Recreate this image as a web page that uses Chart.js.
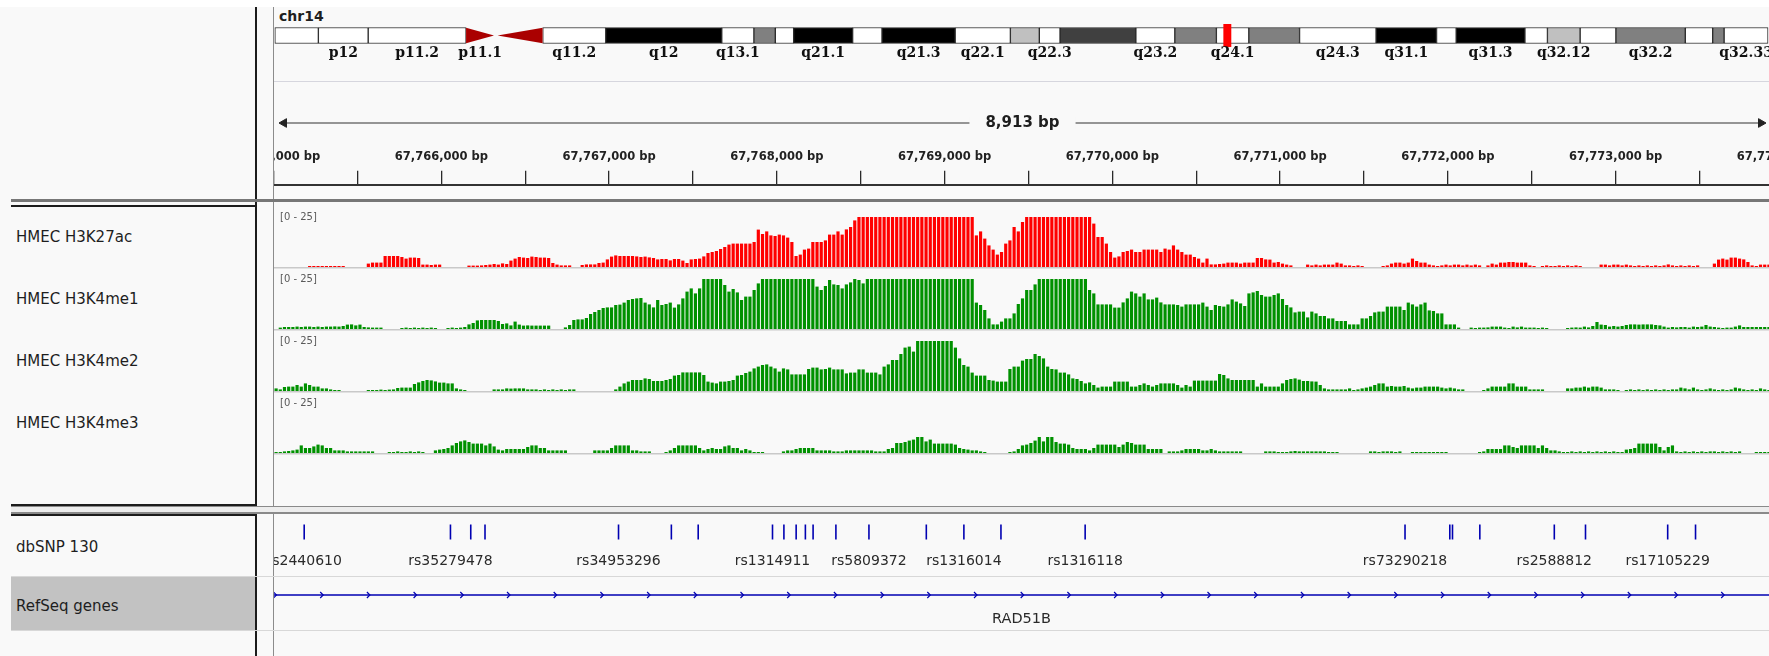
<!DOCTYPE html>
<html lang="en">
<head>
<meta charset="UTF-8">
<title>IGV - chr14:67,765,002-67,773,915</title>
<script src="https://cdn.jsdelivr.net/npm/chart.js@4"></script>
<style>
  html, body { margin: 0; padding: 0; }
  body { width: 1769px; height: 656px; overflow: hidden; position: relative; background: #f9f9f9;
         font-family: "DejaVu Sans", sans-serif; color: #1e1e1e; }
  .box { position: absolute; }
  .name { position: absolute; left: 16px; font-size: 15px; line-height: 18px; white-space: nowrap; }
  canvas { position: absolute; }
  #data { position: absolute; left: 274px; top: 0; width: 1495px; height: 656px; overflow: hidden; }
</style>
</head>
<body>
<!-- frame -->
<div class="box" style="left:0;top:0;width:1769px;height:7px;background:#fff"></div>
<div class="box" style="left:255px;top:7px;width:2px;height:649px;background:#1c1c1c"></div>
<div class="box" style="left:273px;top:7px;width:1px;height:649px;background:#8c8c8c"></div>
<div class="box" style="left:274px;top:81px;width:1495px;height:1px;background:#d6d6de"></div>
<div class="box" style="left:11px;top:199px;width:1758px;height:3px;background:#777"></div>
<div class="box" style="left:11px;top:205px;width:246px;height:2px;background:#1c1c1c"></div>
<div class="box" style="left:11px;top:504px;width:246px;height:2px;background:#1c1c1c"></div>
<div class="box" style="left:11px;top:506px;width:1758px;height:8px;border-top:1px solid #8a8a8a;border-bottom:2px solid #8a8a8a;box-sizing:border-box;background:#ededed"></div>
<div class="box" style="left:11px;top:514px;width:246px;height:2px;background:#1c1c1c"></div>
<div class="box" style="left:11px;top:576px;width:1758px;height:1px;background:#d8d8d8"></div>
<div class="box" style="left:11px;top:577px;width:244px;height:53px;background:#c2c2c2"></div>
<div class="box" style="left:11px;top:630px;width:1758px;height:1px;background:#d8d8d8"></div>

<!-- name panel -->
<div class="name" style="left:279px;top:7px;font-size:14px;font-weight:bold">chr14</div>
<div class="name" style="top:228px">HMEC H3K27ac</div>
<div class="name" style="top:290px">HMEC H3K4me1</div>
<div class="name" style="top:352px">HMEC H3K4me2</div>
<div class="name" style="top:414px">HMEC H3K4me3</div>
<div class="name" style="top:538px">dbSNP 130</div>
<div class="name" style="top:597px">RefSeq genes</div>

<div id="data">
  <canvas id="ideogram" width="1500" height="45" style="left:0;top:20px"></canvas>
  <canvas id="span" width="1495" height="26" style="left:0;top:110px"></canvas>
  <canvas id="ruler" width="1625" height="90" style="left:-60px;top:143px"></canvas>
  <canvas id="t1" width="1497" height="64" style="left:0;top:205px"></canvas>
  <canvas id="t2" width="1497" height="64" style="left:0;top:267px"></canvas>
  <canvas id="t3" width="1497" height="64" style="left:0;top:329px"></canvas>
  <canvas id="t4" width="1497" height="64" style="left:0;top:391px"></canvas>
  <canvas id="snp" width="1615" height="56" style="left:-60px;top:518px"></canvas>
  <canvas id="gene" width="1495" height="46" style="left:0;top:582px"></canvas>
</div>

<script>
// ---- view ----
const viewStart = 67765002;
const viewEnd = 67773915;

// ---- coverage, 25 bp bins from 67,765,000 ----
const binStart = 67765000;
const binSize = 25;

const h3k27ac = [
  0,0,0,0,0,0,0,0,0.5,0.5, 0.5,0.5,0.5,0.5,0.5,0.5,0.5,0,0,0,
  0,0,1.7,2.2,2.2,2.2,5.5,5.5,5.5,5.5, 5.0,4.2,4.7,4.7,4.5,1.2,1.2,1.0,1.2,1.2,
  0,0,0,0,0,0,0.7,0.7,0.7,0.8, 1.0,1.2,1.5,1.2,1.8,1.5,3.2,4.2,5.0,4.7,
  4.5,5.2,5.0,4.7,4.7,4.5,2.0,1.2,0.8,0.8, 0.8,0,0,1.0,1.3,1.3,1.3,2.0,2.2,3.8,
  5.2,5.8,5.5,5.5,5.5,5.5,5.3,5.0,5.2,4.8, 4.5,3.8,4.0,4.0,3.3,4.0,4.0,3.2,2.0,3.8,
  4.0,4.2,5.3,7.0,7.5,8.0,9.0,10.0,11.2,11.7, 11.7,11.7,11.7,11.7,12.5,18.7,16.5,17.8,15.8,15.5,
  16.2,15.8,14.7,12.5,5.5,6.2,8.7,9.2,12.5,12.5, 12.5,13.3,16.2,16.2,17.8,16.2,18.8,20,23.3,25,
  25,25,25,25,25,25,25,25,25,25, 25,25,25,25,25,25,25,25,25,25,
  25,25,25,25,25,25,25,15.8,17.8,14.2, 10.8,8.7,6.2,7.5,11.7,13.3,20,17.8,22.5,25,
  25,25,25,25,25,25,25,25,25,25, 25,25,25,25,25,21.7,15,15,11.7,7.5,
  4.7,5.3,7.5,8,8.7,7.5,7.5,8.7,8.7,8.7, 8.7,7.5,9.2,8.7,10.8,8.7,7.5,6.2,6.2,5,
  4.2,2.2,4.2,1.3,1.3,1.5,1.7,2.2,2.2,2.2, 1.7,2.2,2.2,2.2,4.5,4.5,3.8,3.7,2.2,2.5,
  1.7,1.2,0.8,0,0,0,1.2,0.8,1.2,0.8, 1.2,1.2,1.2,2.2,1.7,0.8,0.8,0.5,0.8,0.5,
  0,0,0,0,0.5,0.8,1.7,2.2,2.2,1.7, 2.2,4.2,3,2.2,2.2,1.2,0.8,0.5,0.8,1.2,
  0.8,1.2,1.2,0.8,1.2,0.8,1.2,0.8,0,0.8, 1.7,1.2,2.2,2.2,2.5,2.5,2.2,2.2,2.2,0.8,
  0.5,0,0.5,0.8,0.5,0.5,0.8,0.5,0.8,0.5, 0.8,0.5,0,0,0,0,1.2,1.2,0.8,1.2,
  1.2,0.8,1.2,0.8,0.5,0.8,0.5,0.8,0.5,0.8, 0.5,0.8,1.3,0.8,0.5,0.8,0.5,0.8,0.5,0.8,
  0,0,0,1.7,3.7,4.2,3.7,4.7,4.7,4.2, 3.8,2.5,0.8,0.5,1.2,1.2,1.2
];

const h3k4me1 = [
  0,0.7,1.0,1.0,1.0,1.2,1.0,1.2,1.2,1.0, 1.2,1.0,1.2,1.2,1.3,1.2,1.5,2.2,2.3,1.8,
  2.2,1.0,0.8,0.7,0.7,0.7,0,0,0,0, 0.5,0.7,0.5,0.7,0.5,0.7,0.5,0.7,0.5,0,
  0,0.5,0.7,0.5,0.7,1.0,2.3,3.0,4.3,4.5, 4.5,4.5,4.5,4.0,2.5,2.8,1.8,3.7,2.2,1.7,
  1.8,1.7,1.7,1.7,1.7,1.7,0,0,0,0.8, 2.0,4.5,4.8,4.8,5.5,7.5,8.5,9.5,10.5,10.8,
  10.8,12.0,12.2,13.2,14.5,15.0,15.3,15.5,13.2,12.3, 10.8,14.5,12.0,12.5,13.2,10.7,12.3,15.3,18.7,20.3,
  17.8,20.3,25,25,25,25,25,22,18.7,20, 18.3,14.5,16.2,16.2,19.5,22.8,25,25,25,25,
  25,25,25,25,25,25,25,25,25,21.2, 19.5,21.5,24.5,22.3,22.0,20.3,22.3,23.3,25,24.5,
  22.8,25,25,25,25,25,25,25,25,25, 25,25,25,25,25,25,25,25,25,25,
  25,25,25,25,25,25,25,13.2,12.0,9.5, 5.3,2.3,2.3,3.7,5.3,5.3,7.8,12.5,15.3,19.5,
  19.5,22.3,25,25,25,25,25,25,25,25, 25,25,25,25,19.5,17.8,12.3,12.3,12.3,12.3,
  10.7,10.7,13.3,15.3,18.7,17.8,16.2,17.8,14.8,14.8, 15.7,13.3,12.3,12.3,12.3,12.0,11.2,12.3,12.3,12.3,
  12.3,13.2,11.2,9.5,12.0,11.5,11.2,12.3,14.8,13.7, 12.8,11.5,17.8,18.3,19.0,17.0,16.2,16.2,17.0,17.8,
  15.0,12.0,10.8,8.3,8.7,8.7,5.8,8.7,7.8,6.5, 6.5,5.3,5.3,4.0,4.0,4.0,2.3,2.3,2.3,5.3,
  5.3,6.5,8.3,8.7,8.7,11.2,11.2,11.2,11.2,9.5, 13.2,12.3,11.2,12.3,13.2,9.3,9.0,7.8,7.8,2.3,
  2.3,2.3,0.7,0,0,0.7,0.5,0.7,0.7,0.8, 1.2,1.2,1.2,0.7,0.5,1.2,0.8,1.2,0.7,0.7,
  0.7,0.5,0.7,0.5,0,0,0,0,0.5,0.7, 0.8,0.7,1.2,0.8,1.5,3.5,2.2,2.0,1.2,1.5,
  1.2,1.5,2.0,2.3,2.3,2.2,2.3,2.3,2.3,2.0, 1.8,1.2,0.7,1.0,0.8,1.0,1.0,0.7,1.2,1.0,
  1.2,2.0,1.2,1.0,0.7,0.5,0.7,0.7,1.2,1.8, 1.0,1.0,1.0,1.0,1.0,1.0,1.0
];

const h3k4me2 = [
  1.3,0.8,2.0,2.2,2.2,3.0,2.2,3.8,3.0,2.2, 2.2,1.3,1.3,0.8,0.5,0.5,0,0,0,0,
  0,0,0.5,0.5,0.5,0.7,0.5,0.7,0.8,1.5, 1.7,1.7,1.7,3.5,4.3,5.0,5.5,5.3,4.8,4.2,
  4.2,3.8,3.8,1.3,0.8,0.5,0,0,0,0, 0,0,0.8,0.8,0.8,1.3,1.2,1.3,1.3,1.3,
  0.8,0.8,0.8,0.5,0.8,0.5,0.8,0.5,0.8,0.5, 0.8,0.8,0,0,0,0,0,0,0,0,
  0,0.8,2.2,3.8,4.7,5.5,5.5,5.5,6.3,6.0, 5.0,5.0,5.0,5.5,6.0,7.7,8.0,9.3,9.3,9.3,
  9.3,9.3,8.0,4.7,4.2,3.8,4.7,4.7,5.0,5.5, 7.7,8.0,9.0,9.7,11.3,12.2,13.0,13.3,12.2,11.3,
  9.7,11.3,10.8,8.3,8.3,8.3,8.3,11.0,11.7,11.7, 10.8,11.0,11.7,10.8,10.8,10.8,8.8,9.2,9.2,10.8,
  10.8,9.2,9.2,9.2,8.3,12.2,13.3,15.5,15.5,18.5, 21.7,22.2,19.7,25,25,25,25,25,25,25,
  25,25,21.7,16.3,13.0,12.2,9.2,7.7,7.7,7.7, 5.5,5.2,4.7,4.7,4.7,11.0,12.2,12.2,15.2,16.0,
  16.0,18.5,17.5,16.3,12.2,11.0,10.8,9.2,9.2,8.3, 6.3,6.0,5.0,3.8,4.3,3.0,1.7,2.2,2.2,2.2,
  4.7,4.7,4.7,4.7,2.2,2.2,3.0,3.8,3.0,2.2, 3.0,3.8,3.8,3.8,3.8,3.0,1.7,3.0,2.2,5.2,
  5.2,5.2,5.2,5.2,5.2,8.5,8.0,6.3,5.5,5.5, 5.5,5.5,5.5,5.5,2.2,3.8,2.2,2.2,2.2,2.2,
  3.8,5.5,6.0,6.3,5.7,5.0,5.0,4.8,4.7,3.0, 1.3,0.8,0.8,0.8,0.8,0.8,1.3,0.5,0.8,1.3,
  1.7,2.2,3.0,3.8,3.8,2.2,2.5,2.2,2.2,2.5, 1.7,1.3,1.7,1.7,2.2,2.2,2.2,2.2,1.7,1.3,
  1.7,1.3,0.8,0.8,0,0,0,0,0.5,1.3, 2.2,2.2,2.2,2.2,3.8,3.8,2.2,2.2,2.2,0.8,
  0.8,0.8,0.8,0,0,0,0,0,1.3,1.3, 1.7,1.7,2.2,1.7,2.2,2.2,1.7,0.8,0.8,0.8,
  0.5,0,0.5,0.8,0.5,0.8,0.5,0.8,0.5,0.8, 0.5,0.8,0.5,0.8,0.8,1.7,1.3,0.8,1.7,0.8,
  0.5,0.8,1.3,0.8,0.5,0.8,0.5,0.8,1.7,1.3, 0.8,0.5,0.8,0.5,1.3,0.8,0.5
];

const h3k4me3 = [
  0.5,0.5,0.8,1.0,1.3,1.7,3.8,2.5,2.5,3.3, 4.2,3.8,2.5,2.5,1.3,1.3,1.3,0.8,0.8,0.8,
  0.8,0.8,0.8,0.8,0,0,0,0.5,0.5,0.8, 0.5,0.5,0.8,0.5,0.8,0.5,0,0,1.3,1.7,
  2.0,2.5,3.8,5.0,5.8,6.3,5.5,4.7,4.7,4.7, 3.8,4.7,3.3,1.7,1.3,2.0,2.0,2.0,2.0,2.0,
  3.0,3.8,3.8,2.5,2.5,1.3,1.3,1.3,1.3,1.3, 0,0,0,0,0,0,1.3,1.3,1.3,1.3,
  2.5,3.8,3.8,3.8,3.8,1.3,1.3,0.8,0.8,0.8, 0,0,0,0.5,1.3,2.5,3.8,3.8,3.8,3.8,
  3.8,2.5,1.3,2.0,2.5,2.0,2.0,3.3,3.8,2.5, 2.5,1.3,2.0,1.3,0.5,0.5,0.5,0,0,0,
  0,0.8,1.3,1.3,2.0,2.5,2.5,2.5,2.5,1.3, 1.3,1.3,1.3,0.8,0.8,0.8,1.3,1.3,1.3,1.3,
  1.3,1.3,1.3,0.8,0.8,0.8,2.0,2.5,5.0,5.0, 5.5,6.2,6.7,8.0,8.0,5.8,6.7,4.7,4.7,4.7,
  4.7,4.7,4.2,2.5,2.0,1.7,1.3,1.3,0.8,0.5, 0,0,0,0,0,0.5,0.8,2.0,3.8,4.2,
  5.0,6.2,8.0,5.8,8.0,8.0,5.5,4.7,4.7,4.2, 2.5,2.0,2.0,2.0,1.3,2.5,4.2,4.2,4.2,4.2,
  4.2,3.0,4.2,5.5,5.0,4.2,4.2,4.2,2.0,2.0, 2.0,2.0,0,0.8,0.8,0.8,1.3,2.0,2.0,2.0,
  2.0,1.3,1.3,2.0,1.3,0.8,0.8,0.8,0.8,0.8, 0.8,0,0,0,0,0,0.8,0.8,0.8,0.5,
  0.5,0.5,0.8,1.0,0.8,0.8,0.8,0.8,0.8,0.8, 0.8,0.5,0.5,0.5,0,0,0,0,0,0,
  0,0.8,0.8,0.5,0.8,0.8,0.8,0.5,0.8,0, 0,0.5,0.5,0.5,0.5,0.5,0.5,0.5,0.5,0.5,
  0,0,0,0,0,0,0,0.5,0.8,2.0, 2.0,2.0,2.0,3.8,3.8,3.0,2.5,3.8,3.8,3.8,
  3.8,2.5,3.8,2.5,1.3,1.3,0.8,0.5,0.5,0.8, 0.5,0.8,0.5,0.8,0.5,0.8,0.5,0.8,0.5,0.8,
  0.5,0.5,1.7,2.0,2.5,4.7,4.7,4.7,4.7,4.7, 3.0,1.3,3.0,3.8,0.8,0.5,0.8,0.5,0.8,0.5,
  0.8,0.5,0.8,0.8,0.5,0.8,0.5,0.8,0.5,0.8, 0,0,0,0.5,0.5,0.5,0.5
];

// ---- chr14 cytobands (Mb) ----
const bandNames  = ['p13','p12','p11.2','p11.1','q11.1','q11.2','q12','q13.1','q13.2','q13.3','q21.1','q21.2','q21.3','q22.1','q22.2','q22.3',
                    'q23.1','q23.2','q23.3','q24.1','q24.2','q24.3','q31.1','q31.2','q31.3','q32.11','q32.12','q32.13','q32.2','q32.31','q32.32','q32.33'];
const bandStarts = [0, 3.13, 6.71, 13.75, 16.01, 19.26, 23.79, 32.13, 34.44, 35.98, 37.30, 41.54, 43.65, 48.91, 52.88, 54.96,
                    56.45, 61.90, 64.70, 67.69, 70.02, 73.67, 79.17, 83.52, 84.93, 89.87, 91.49, 93.84, 96.41, 101.40, 103.37, 104.19];
const bandEnds   = [3.13, 6.71, 13.75, 15.76, 19.26, 23.79, 32.13, 34.44, 35.98, 37.30, 41.54, 43.65, 48.91, 52.88, 54.96, 56.45,
                    61.90, 64.70, 67.69, 70.02, 73.67, 79.17, 83.52, 84.93, 89.87, 91.49, 93.84, 96.41, 101.40, 103.37, 104.19, 107.35];
const bandStains = ['gneg','gneg','gneg','acen','acen','gneg','gpos100','gneg','gpos50','gneg','gpos100','gneg','gpos100','gneg','gpos25','gneg',
                    'gpos75','gneg','gpos50','gneg','gpos50','gneg','gpos100','gneg','gpos100','gneg','gpos25','gneg','gpos50','gneg','gpos50','gneg'];
const bandShown  = ['p12','p11.2','p11.1','q11.2','q12','q13.1','q21.1','q21.3','q22.1','q22.3','q23.2','q24.1','q24.3','q31.1','q31.3','q32.12','q32.2','q32.33'];
const currentMb  = [68.18, 68.78];

// ---- dbSNP 130 ----
const snpPositions = [67765182, 67766054, 67766175, 67766260, 67767056, 67767371, 67767531, 67767974, 67768042, 67768115,
                      67768170, 67768216, 67768352, 67768549, 67768891, 67769115, 67769336, 67769838, 67771745, 67772012,
                      67772028, 67772191, 67772635, 67772821, 67773311, 67773477];
const snpIds = ['rs2440610','rs35279478','','','rs34953296','','','rs1314911','','',
                '','','','rs5809372','','rs1316014','','rs1316118','rs73290218','',
                '','','rs2588812','','rs17105229',''];

// ---- RefSeq ----
const geneName = 'RAD51B';
const geneStart = 67286000;
const geneEnd = 68196000;

// ---------------------------------------------------------------
const pxPerBp = 1495 / (viewEnd - viewStart);
const blue = 'rgb(0,0,178)';
const stainColor = { gneg: '#ffffff', gpos25: '#c0c0c0', gpos50: '#808080', gpos75: '#404040', gpos100: '#000000', acen: 'rgba(0,0,0,0)' };
const fmt = v => v.toLocaleString('en-US');

Chart.defaults.font.family = '"DejaVu Sans", sans-serif';
Chart.defaults.color = '#222';

const base = (extra) => Object.assign({
  responsive: false, animation: false, events: [], devicePixelRatio: 1,
  layout: { padding: 0, autoPadding: false },
  plugins: { legend: { display: false }, tooltip: { enabled: false } }
}, extra);

// ideogram
const acenIdx = bandStains.map((s, i) => s === 'acen' ? i : -1).filter(i => i >= 0);
const triangles = [];
// current-location marker on top
triangles.push({ type: 'line', yAxisID: 'y2', data: [{x: currentMb[0], y: 0.74}, {x: currentMb[1], y: 0.74}],
                 fill: '+1', backgroundColor: '#ff0000', borderWidth: 0, pointRadius: 0 });
triangles.push({ type: 'line', yAxisID: 'y2', data: [{x: currentMb[0], y: -0.74}, {x: currentMb[1], y: -0.74}],
                 fill: false, borderWidth: 0, pointRadius: 0 });
acenIdx.forEach((i, k) => {
  const s = bandStarts[i], e = bandEnds[i];
  // p-arm centromere narrows to the right, q-arm one to the left
  const up = k === 0 ? [0.5, 0] : [0, 0.5];
  triangles.push({ type: 'line', yAxisID: 'y2', data: [{x: s, y: up[0]}, {x: e, y: up[1]}],
                   fill: '+1', backgroundColor: '#aa0000', borderWidth: 0, pointRadius: 0 });
  triangles.push({ type: 'line', yAxisID: 'y2', data: [{x: s, y: -up[0]}, {x: e, y: -up[1]}],
                   fill: false, borderWidth: 0, pointRadius: 0 });
});
const bandSets = bandNames.map((n, i) => ({
  type: 'bar', indexAxis: 'y', xAxisID: 'x', yAxisID: 'y', grouped: false,
  data: [[bandStarts[i], bandEnds[i]]],
  backgroundColor: stainColor[bandStains[i]],
  borderColor: '#2a2a2a', borderWidth: bandStains[i] === 'acen' ? 0 : 1, borderSkipped: false,
  barThickness: 16
}));

new Chart(document.getElementById('ideogram'), {
  type: 'bar',
  data: { labels: ['chr14'], datasets: triangles.concat(bandSets) },
  options: base({
    layout: { padding: { top: 0, bottom: 14, left: 0, right: 0 }, autoPadding: false },
    scales: {
      x: { type: 'linear', offset: false, grid: { offset: false }, min: -0.06, max: -0.06 + 1500 * 0.071892, display: false },
      y: { type: 'category', labels: ['chr14'], display: false },
      y2: { type: 'linear', min: -1, max: 1, display: false }
    }
  }),
  plugins: [{
    id: 'bandLabels',
    afterDraw(chart) {
      const ctx = chart.ctx, xs = chart.scales.x;
      ctx.save();
      ctx.font = 'bold 14px "DejaVu Serif", serif';
      ctx.fillStyle = '#111';
      ctx.textAlign = 'center';
      ctx.textBaseline = 'middle';
      bandNames.forEach((n, i) => {
        if (!bandShown.includes(n)) return;
        ctx.fillText(n, xs.getPixelForValue((bandStarts[i] + bandEnds[i]) / 2), chart.chartArea.bottom + 2.5);
      });
      ctx.restore();
    }
  }]
});

// span line "8,913 bp"
new Chart(document.getElementById('span'), {
  type: 'scatter',
  data: { datasets: [{
    data: [{x: viewStart, y: 0}, {x: viewEnd, y: 0}], showLine: true,
    borderColor: '#333', borderWidth: 1.2, clip: false,
    pointStyle: 'triangle', pointRotation: [-90, 90], pointRadius: 5,
    pointBackgroundColor: '#222', pointBorderColor: '#222', pointBorderWidth: 1
  }]},
  options: base({
    layout: { padding: { left: 10, right: 8, top: 0, bottom: 0 }, autoPadding: false },
    scales: { x: { type: 'linear', min: viewStart, max: viewEnd, display: false },
              y: { min: -1, max: 1, display: false } }
  }),
  plugins: [{
    id: 'spanLabel',
    afterDatasetsDraw(chart) {
      const ctx = chart.ctx, a = chart.chartArea;
      const txt = fmt(viewEnd - viewStart) + ' bp';
      const cx = (a.left + a.right) / 2, cy = (a.top + a.bottom) / 2;
      ctx.save();
      ctx.font = 'bold 15px "DejaVu Sans", sans-serif';
      const w = ctx.measureText(txt).width;
      ctx.fillStyle = '#f9f9f9';
      ctx.fillRect(cx - w / 2 - 16, cy - 6, w + 32, 12);
      ctx.fillStyle = '#1e1e1e';
      ctx.textAlign = 'center';
      ctx.textBaseline = 'middle';
      ctx.fillText(txt, cx, cy);
      ctx.restore();
    }
  }]
});

// ruler: a mark every 500 bp, a label every 1 kb
new Chart(document.getElementById('ruler'), {
  type: 'scatter',
  data: { datasets: [{ data: [] }] },
  options: base({
    layout: { padding: 0, autoPadding: false },
    scales: {
      x: {
        type: 'linear', position: 'top',
        min: viewStart - 60 / pxPerBp, max: viewStart + (1625 - 60) / pxPerBp,
        afterBuildTicks: axis => {
          const ticks = [];
          for (let v = Math.ceil(axis.min / 500) * 500; v <= axis.max; v += 500) ticks.push({ value: v });
          axis.ticks = ticks;
        },
        grid: { drawOnChartArea: false, drawTicks: true, tickLength: 14, color: '#2a2a2a', lineWidth: 1.3 },
        border: { display: true, color: '#333', width: 2 },
        ticks: {
          autoSkip: false, maxRotation: 0, padding: 7,
          color: '#222', font: { size: 11.5, weight: 'bold', lineHeight: 1.2 },
          callback: v => Math.round(v) % 1000 === 0 ? fmt(Math.round(v)) + ' bp' : ''
        }
      },
      y: { display: false, min: 0, max: 1 }
    }
  })
});

// coverage tracks
function coverageTrack(id, values, color) {
  new Chart(document.getElementById(id), {
    type: 'bar',
    data: {
      labels: values.map((_, i) => binStart + i * binSize),
      datasets: [{ data: values, backgroundColor: color, barPercentage: 0.76, categoryPercentage: 1 }]
    },
    options: base({
      layout: { padding: { top: 12, bottom: 2, left: 0, right: 0 }, autoPadding: false },
      scales: { x: { display: false }, y: { display: false, min: 0, max: 25 } }
    }),
    plugins: [{
      id: 'trackFrame',
      beforeDatasetsDraw(chart) {
        const ctx = chart.ctx, a = chart.chartArea;
        ctx.save();
        ctx.fillStyle = '#c9c9c9';
        ctx.fillRect(0, a.bottom, chart.width, 1.5);
        ctx.restore();
      },
      afterDraw(chart) {
        const ctx = chart.ctx, a = chart.chartArea, y = chart.scales.y;
        ctx.save();
        ctx.font = '10px "DejaVu Sans", sans-serif';
        ctx.fillStyle = '#5a5a5a';
        ctx.textBaseline = 'middle';
        ctx.fillText('[' + y.min + ' - ' + y.max + ']', 6, a.top);
        ctx.restore();
      }
    }]
  });
}
coverageTrack('t1', h3k27ac, '#ff0000');
coverageTrack('t2', h3k4me1, 'rgb(0,145,0)');
coverageTrack('t3', h3k4me2, 'rgb(0,145,0)');
coverageTrack('t4', h3k4me3, 'rgb(0,145,0)');

// dbSNP
new Chart(document.getElementById('snp'), {
  type: 'scatter',
  data: { datasets: [{
    data: snpPositions.map(p => ({x: p, y: 0})),
    pointStyle: 'line', pointRotation: 90, pointRadius: 7.5,
    pointBorderColor: blue, pointBorderWidth: 1.6
  }]},
  options: base({
    layout: { padding: { top: 0, bottom: 28, left: 0, right: 0 }, autoPadding: false },
    scales: { x: { type: 'linear', display: false, min: viewStart - 60 / pxPerBp, max: viewStart + (1615 - 60) / pxPerBp },
              y: { display: false, min: -1, max: 1 } }
  }),
  plugins: [{
    id: 'snpLabels',
    afterDraw(chart) {
      const ctx = chart.ctx, xs = chart.scales.x;
      ctx.save();
      ctx.font = '14px "DejaVu Sans", sans-serif';
      ctx.fillStyle = '#2a2a2a';
      ctx.textAlign = 'center';
      ctx.textBaseline = 'middle';
      snpPositions.forEach((p, i) => {
        if (snpIds[i]) ctx.fillText(snpIds[i], xs.getPixelForValue(p), chart.chartArea.bottom + 15.5);
      });
      ctx.restore();
    }
  }]
});

// RefSeq gene
new Chart(document.getElementById('gene'), {
  type: 'scatter',
  data: { datasets: [{
    data: [{x: geneStart, y: 0}, {x: geneEnd, y: 0}], showLine: true,
    borderColor: blue, borderWidth: 1.5, pointRadius: 0
  }]},
  options: base({
    layout: { padding: { top: 0, bottom: 20, left: 0, right: 0 }, autoPadding: false },
    scales: { x: { type: 'linear', display: false, min: viewStart, max: viewEnd },
              y: { display: false, min: -1, max: 1 } }
  }),
  plugins: [{
    id: 'strandAndName',
    afterDatasetsDraw(chart) {
      const ctx = chart.ctx, a = chart.chartArea, xs = chart.scales.x;
      const y = chart.scales.y.getPixelForValue(0);
      const x0 = Math.max(a.left, xs.getPixelForValue(geneStart));
      const x1 = Math.min(a.right, xs.getPixelForValue(geneEnd));
      ctx.save();
      ctx.strokeStyle = blue;
      ctx.lineWidth = 1.2;
      for (let x = x0 + 1; x < x1; x += 46.7) {
        ctx.beginPath();
        ctx.moveTo(x - 1.5, y - 3);
        ctx.lineTo(x + 1.5, y);
        ctx.lineTo(x - 1.5, y + 3);
        ctx.stroke();
      }
      ctx.font = '14.5px "DejaVu Sans", sans-serif';
      ctx.fillStyle = '#2a2a2a';
      ctx.textAlign = 'center';
      ctx.textBaseline = 'middle';
      ctx.fillText(geneName, (x0 + x1) / 2, y + 24);
      ctx.restore();
    }
  }]
});
</script>
</body>
</html>
